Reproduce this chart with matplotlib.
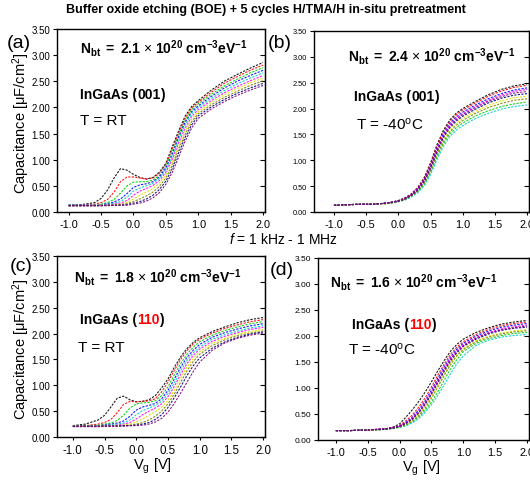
import matplotlib
matplotlib.use('Agg')
import matplotlib.pyplot as plt
import matplotlib.ticker as mticker

W, H = 530, 481

# gate voltage grid (V)
V = [-1.0, -0.8, -0.6, -0.5, -0.4, -0.3, -0.2, -0.1, 0.0, 0.1, 0.2, 0.3,
     0.4, 0.5, 0.6, 0.7, 0.8, 0.9, 1.0, 1.2, 1.4, 1.6, 1.8, 2.0]

# (a) InGaAs(001), RT, 1 kHz -> 1 MHz
A_CURVES = [
    [0.13, 0.14, 0.18, 0.26, 0.42, 0.65, 0.83, 0.80, 0.72, 0.66, 0.63, 0.66, 0.76, 0.93, 1.25, 1.56, 1.84, 2.02, 2.13, 2.33, 2.50, 2.63, 2.75, 2.86],
    [0.13, 0.13, 0.15, 0.18, 0.24, 0.38, 0.58, 0.67, 0.67, 0.65, 0.63, 0.65, 0.74, 0.91, 1.21, 1.52, 1.80, 1.99, 2.10, 2.29, 2.46, 2.59, 2.71, 2.81],
    [0.13, 0.13, 0.14, 0.15, 0.18, 0.24, 0.36, 0.50, 0.57, 0.58, 0.58, 0.61, 0.70, 0.88, 1.16, 1.48, 1.76, 1.96, 2.07, 2.25, 2.41, 2.54, 2.66, 2.76],
    [0.13, 0.13, 0.13, 0.14, 0.16, 0.19, 0.25, 0.35, 0.47, 0.52, 0.54, 0.58, 0.67, 0.84, 1.11, 1.44, 1.72, 1.92, 2.03, 2.21, 2.37, 2.50, 2.61, 2.71],
    [0.13, 0.13, 0.13, 0.14, 0.15, 0.17, 0.20, 0.28, 0.40, 0.46, 0.50, 0.55, 0.64, 0.80, 1.06, 1.39, 1.67, 1.88, 2.00, 2.17, 2.32, 2.45, 2.56, 2.66],
    [0.12, 0.13, 0.13, 0.13, 0.14, 0.15, 0.17, 0.22, 0.32, 0.40, 0.45, 0.51, 0.60, 0.76, 1.01, 1.33, 1.61, 1.83, 1.96, 2.13, 2.28, 2.40, 2.51, 2.61],
    [0.12, 0.12, 0.13, 0.13, 0.13, 0.14, 0.15, 0.18, 0.25, 0.32, 0.38, 0.45, 0.55, 0.71, 0.95, 1.27, 1.55, 1.78, 1.92, 2.09, 2.24, 2.36, 2.47, 2.56],
    [0.12, 0.12, 0.12, 0.13, 0.13, 0.13, 0.14, 0.16, 0.20, 0.25, 0.31, 0.38, 0.49, 0.65, 0.89, 1.21, 1.49, 1.73, 1.88, 2.05, 2.19, 2.31, 2.42, 2.51],
    [0.12, 0.12, 0.12, 0.12, 0.13, 0.13, 0.13, 0.14, 0.17, 0.20, 0.25, 0.32, 0.43, 0.59, 0.83, 1.14, 1.43, 1.67, 1.84, 2.01, 2.15, 2.27, 2.37, 2.46],
    [0.12, 0.12, 0.12, 0.12, 0.12, 0.13, 0.13, 0.13, 0.15, 0.17, 0.21, 0.27, 0.37, 0.53, 0.76, 1.06, 1.36, 1.61, 1.79, 1.97, 2.11, 2.23, 2.33, 2.42],
]

# (b) InGaAs(001), -40 C
B_CURVES = [
    [0.13, 0.14, 0.15, 0.15, 0.15, 0.16, 0.17, 0.19, 0.22, 0.27, 0.35, 0.47, 0.66, 0.95, 1.30, 1.58, 1.78, 1.91, 2.00, 2.14, 2.27, 2.37, 2.44, 2.48],
    [0.13, 0.14, 0.15, 0.15, 0.15, 0.16, 0.17, 0.19, 0.22, 0.27, 0.34, 0.46, 0.64, 0.92, 1.27, 1.55, 1.75, 1.88, 1.97, 2.11, 2.24, 2.34, 2.41, 2.45],
    [0.13, 0.14, 0.15, 0.15, 0.15, 0.16, 0.16, 0.18, 0.20, 0.24, 0.30, 0.39, 0.53, 0.76, 1.06, 1.32, 1.51, 1.63, 1.72, 1.86, 1.96, 2.04, 2.09, 2.13],
    [0.13, 0.14, 0.15, 0.15, 0.15, 0.16, 0.17, 0.19, 0.22, 0.26, 0.33, 0.45, 0.62, 0.89, 1.23, 1.51, 1.71, 1.84, 1.93, 2.07, 2.19, 2.29, 2.36, 2.40],
    [0.13, 0.14, 0.15, 0.15, 0.15, 0.16, 0.16, 0.18, 0.20, 0.23, 0.29, 0.37, 0.50, 0.72, 1.01, 1.27, 1.46, 1.58, 1.67, 1.81, 1.91, 1.99, 2.04, 2.07],
    [0.13, 0.14, 0.15, 0.15, 0.15, 0.16, 0.17, 0.19, 0.21, 0.26, 0.33, 0.44, 0.61, 0.87, 1.20, 1.48, 1.68, 1.81, 1.90, 2.04, 2.16, 2.26, 2.33, 2.37],
    [0.13, 0.14, 0.15, 0.15, 0.15, 0.16, 0.16, 0.18, 0.21, 0.25, 0.31, 0.41, 0.57, 0.81, 1.13, 1.40, 1.59, 1.72, 1.81, 1.95, 2.06, 2.15, 2.21, 2.24],
    [0.13, 0.14, 0.15, 0.15, 0.15, 0.16, 0.16, 0.18, 0.20, 0.24, 0.31, 0.40, 0.55, 0.79, 1.10, 1.36, 1.55, 1.68, 1.77, 1.91, 2.02, 2.10, 2.16, 2.19],
    [0.13, 0.14, 0.15, 0.15, 0.15, 0.16, 0.17, 0.18, 0.21, 0.25, 0.32, 0.42, 0.59, 0.84, 1.16, 1.44, 1.63, 1.76, 1.85, 1.99, 2.11, 2.20, 2.26, 2.29],
    [0.13, 0.14, 0.15, 0.15, 0.15, 0.16, 0.17, 0.19, 0.21, 0.26, 0.32, 0.43, 0.60, 0.85, 1.18, 1.46, 1.66, 1.79, 1.88, 2.02, 2.14, 2.23, 2.30, 2.33],
]

# (c) InGaAs(110), RT
C_CURVES = [
    [0.22, 0.25, 0.33, 0.42, 0.58, 0.75, 0.79, 0.72, 0.68, 0.69, 0.72, 0.80, 0.95, 1.12, 1.35, 1.55, 1.71, 1.83, 1.92, 2.04, 2.13, 2.21, 2.27, 2.31],
    [0.21, 0.22, 0.25, 0.28, 0.34, 0.47, 0.63, 0.69, 0.68, 0.69, 0.70, 0.74, 0.87, 1.06, 1.29, 1.50, 1.67, 1.80, 1.89, 2.01, 2.10, 2.17, 2.23, 2.27],
    [0.21, 0.21, 0.23, 0.25, 0.27, 0.32, 0.42, 0.56, 0.64, 0.66, 0.67, 0.70, 0.80, 0.97, 1.20, 1.42, 1.60, 1.74, 1.84, 1.97, 2.06, 2.13, 2.19, 2.23],
    [0.21, 0.21, 0.22, 0.23, 0.25, 0.27, 0.31, 0.40, 0.52, 0.58, 0.61, 0.65, 0.74, 0.90, 1.12, 1.35, 1.54, 1.68, 1.79, 1.93, 2.02, 2.09, 2.15, 2.19],
    [0.21, 0.21, 0.22, 0.22, 0.23, 0.25, 0.27, 0.33, 0.43, 0.51, 0.56, 0.61, 0.69, 0.84, 1.05, 1.28, 1.48, 1.63, 1.74, 1.89, 1.98, 2.05, 2.11, 2.15],
    [0.21, 0.21, 0.21, 0.22, 0.22, 0.23, 0.25, 0.28, 0.35, 0.43, 0.50, 0.56, 0.64, 0.78, 0.98, 1.21, 1.42, 1.58, 1.70, 1.85, 1.95, 2.02, 2.08, 2.12],
    [0.21, 0.21, 0.21, 0.21, 0.22, 0.22, 0.23, 0.25, 0.29, 0.35, 0.42, 0.49, 0.58, 0.71, 0.91, 1.14, 1.35, 1.52, 1.65, 1.81, 1.91, 1.99, 2.04, 2.08],
    [0.21, 0.21, 0.21, 0.21, 0.21, 0.22, 0.22, 0.23, 0.25, 0.28, 0.33, 0.40, 0.50, 0.64, 0.83, 1.06, 1.28, 1.46, 1.60, 1.77, 1.88, 1.96, 2.01, 2.05],
    [0.21, 0.21, 0.21, 0.21, 0.21, 0.21, 0.22, 0.22, 0.23, 0.25, 0.28, 0.34, 0.43, 0.57, 0.76, 0.97, 1.19, 1.38, 1.53, 1.72, 1.84, 1.93, 1.99, 2.03],
    [0.20, 0.20, 0.20, 0.21, 0.21, 0.21, 0.21, 0.22, 0.22, 0.23, 0.25, 0.29, 0.36, 0.48, 0.65, 0.85, 1.06, 1.27, 1.45, 1.68, 1.82, 1.91, 1.97, 2.01],
]

# (d) InGaAs(110), -40 C
D_CURVES = [
    [0.18, 0.18, 0.19, 0.19, 0.20, 0.21, 0.22, 0.25, 0.31, 0.44, 0.58, 0.74, 0.92, 1.12, 1.33, 1.53, 1.71, 1.84, 1.94, 2.07, 2.16, 2.23, 2.27, 2.30],
    [0.18, 0.18, 0.19, 0.19, 0.20, 0.21, 0.22, 0.24, 0.28, 0.37, 0.48, 0.63, 0.81, 1.02, 1.25, 1.46, 1.65, 1.79, 1.89, 2.03, 2.13, 2.20, 2.24, 2.27],
    [0.18, 0.18, 0.19, 0.19, 0.20, 0.20, 0.21, 0.23, 0.25, 0.29, 0.35, 0.44, 0.57, 0.73, 0.93, 1.15, 1.37, 1.55, 1.70, 1.86, 1.95, 2.01, 2.05, 2.07],
    [0.18, 0.18, 0.19, 0.19, 0.20, 0.21, 0.22, 0.24, 0.27, 0.34, 0.44, 0.58, 0.75, 0.96, 1.19, 1.41, 1.60, 1.75, 1.86, 2.00, 2.10, 2.17, 2.21, 2.24],
    [0.18, 0.18, 0.19, 0.19, 0.19, 0.20, 0.21, 0.22, 0.24, 0.27, 0.33, 0.41, 0.53, 0.68, 0.86, 1.06, 1.28, 1.47, 1.62, 1.82, 1.92, 1.98, 2.01, 2.03],
    [0.18, 0.18, 0.19, 0.19, 0.20, 0.21, 0.22, 0.24, 0.27, 0.33, 0.42, 0.55, 0.72, 0.92, 1.15, 1.37, 1.57, 1.72, 1.83, 1.97, 2.07, 2.14, 2.18, 2.21],
    [0.18, 0.18, 0.19, 0.19, 0.19, 0.20, 0.21, 0.23, 0.25, 0.30, 0.38, 0.49, 0.64, 0.83, 1.05, 1.27, 1.48, 1.64, 1.76, 1.91, 2.00, 2.06, 2.10, 2.12],
    [0.18, 0.18, 0.19, 0.19, 0.19, 0.20, 0.21, 0.22, 0.25, 0.29, 0.36, 0.47, 0.61, 0.80, 1.02, 1.24, 1.45, 1.62, 1.74, 1.89, 1.98, 2.04, 2.08, 2.10],
    [0.18, 0.18, 0.19, 0.19, 0.20, 0.20, 0.21, 0.23, 0.26, 0.32, 0.40, 0.52, 0.68, 0.88, 1.10, 1.32, 1.52, 1.68, 1.80, 1.94, 2.04, 2.11, 2.15, 2.17],
    [0.18, 0.18, 0.19, 0.19, 0.20, 0.21, 0.22, 0.24, 0.26, 0.32, 0.41, 0.53, 0.70, 0.90, 1.13, 1.35, 1.55, 1.70, 1.81, 1.96, 2.06, 2.12, 2.16, 2.19],
]

NBT = ['2.1', '2.4', '1.8', '1.6']
ORIENT = ['001', '001', '110', '110']
TEMP = ['T = RT', 'T = -40$^{\\mathrm{o}}$C', 'T = RT', 'T = -40$^{\\mathrm{o}}$C']
PANEL = ['(a)', '(b)', '(c)', '(d)']

# Origin-like colour order, lowest frequency first
COLORS = ['black', '#ff0000', '#00cc00', '#0000ff', '#00cccc', '#ff00ff',
          '#e0e000', '#808000', '#000080', '#800080']


def initialize():
    plt.rcParams['font.family'] = ['Liberation Sans', 'DejaVu Sans']
    plt.rcParams['mathtext.fontset'] = 'custom'
    plt.rcParams['mathtext.rm'] = 'Liberation Sans'
    plt.rcParams['mathtext.it'] = 'Liberation Sans:italic'
    plt.rcParams['mathtext.bf'] = 'Liberation Sans:bold'
    fig = plt.figure(figsize=(W / 100, H / 100), dpi=100)
    return fig


def fxy(x, y):
    # pixel -> figure fraction
    return x / W, 1 - y / H


def make_axes(fig, left, top, right, bottom, xmin, ysize, xsize):
    ax = fig.add_axes([left / W, 1 - bottom / H, (right - left) / W, (bottom - top) / H])
    ax.set_xlim(xmin, 2.03)
    ax.set_ylim(0, 3.5)
    ax.xaxis.set_major_locator(mticker.MultipleLocator(0.5))
    ax.yaxis.set_major_locator(mticker.MultipleLocator(0.5))
    ax.xaxis.set_major_formatter(mticker.FormatStrFormatter('%.1f'))
    ax.yaxis.set_major_formatter(mticker.FormatStrFormatter('%.2f'))
    ax.tick_params(axis='y', direction='out', length=3, width=0.8, labelsize=ysize, pad=2)
    ax.tick_params(axis='x', direction='out', length=2, width=0.8, labelsize=xsize, pad=3)
    for s in ax.spines.values():
        s.set_linewidth(1.0)
    sec = ax.secondary_yaxis('right')
    sec.yaxis.set_major_locator(mticker.MultipleLocator(0.5))
    sec.tick_params(direction='in', length=3.5, width=0.8, labelright=False)
    return ax


def plot_curves(ax, curves):
    for i in range(len(curves)):
        ax.plot(V, curves[i], color=COLORS[i], lw=0.8, ls=(0, (2, 1.2)), alpha=0.9)


def orient_text(fig, x, y, orient, red):
    # "InGaAs (110)" with the orientation in red for (110)
    t1 = fig.text(*fxy(x, y), 'InGaAs (', fontsize=10, fontweight='bold', va='center')
    a = plt.annotate(orient, xy=(1, 0), xycoords=t1, va='bottom', ha='left',
                     fontsize=10, fontweight='bold', color='red' if red else 'black',
                     annotation_clip=False)
    plt.annotate(')', xy=(1, 0), xycoords=a, va='bottom', ha='left',
                 fontsize=10, fontweight='bold', annotation_clip=False)


def main():
    fig = initialize()

    ax_a = make_axes(fig, 57, 30, 265, 213, -1.18, 7, 7.8)
    ax_b = make_axes(fig, 314, 32, 529, 213, -1.31, 5.3, 7.8)
    ax_c = make_axes(fig, 57, 257, 265, 438, -1.25, 7, 8.3)
    ax_d = make_axes(fig, 318, 259, 529, 441, -1.28, 6, 7.8)
    axes = [ax_a, ax_b, ax_c, ax_d]
    data = [A_CURVES, B_CURVES, C_CURVES, D_CURVES]
    for ax, curves in zip(axes, data):
        plot_curves(ax, curves)

    for ax in [ax_a, ax_c]:
        ax.set_ylabel('Capacitance [μF/cm$^2$]', fontsize=10.5)
        ax.yaxis.set_label_coords(-0.12, 0.49)
    ax_c.set_xlabel('V$_\\mathrm{g}$ [V]', fontsize=10.5)
    ax_c.xaxis.set_label_coords(0.46, -0.105)
    ax_d.set_xlabel('V$_\\mathrm{g}$ [V]', fontsize=10.5)
    ax_d.xaxis.set_label_coords(0.49, -0.095)

    # text positions (pixels)
    lab_pos = [(19, 44), (280, 43), (21, 267), (282, 271)]
    nbt_pos = [(80, 48), (348, 57), (74, 278), (330, 283)]
    ing_pos = [(80, 95), (354, 97), (80, 320), (352, 325)]
    tmp_pos = [(80, 121), (356, 125), (78, 348), (348, 350)]
    for i in range(4):
        fig.text(*fxy(*lab_pos[i]), PANEL[i], fontsize=14, ha='center', va='center')
        fig.text(*fxy(*nbt_pos[i]),
                 r'$\mathbf{N_{bt}}$ $\mathbf{=}$ $\mathbf{' + NBT[i] + r'}$ $\times$ '
                 r'$\mathbf{10^{20}}$ $\mathbf{cm^{-3}eV^{-1}}$',
                 fontsize=10, va='center')
        orient_text(fig, ing_pos[i][0], ing_pos[i][1], ORIENT[i], ORIENT[i] == '110')
        fig.text(*fxy(*tmp_pos[i]), TEMP[i], fontsize=11, va='center')

    fig.text(*fxy(266, 10), 'Buffer oxide etching (BOE) + 5 cycles H/TMA/H in-situ pretreatment',
             fontsize=9, fontweight='bold', ha='center', va='center')
    fig.text(*fxy(283, 240), '$f$ = 1 kHz - 1 MHz', fontsize=10, ha='center', va='center')

    fig.savefig('out.png', dpi=100)
    return 0


if __name__ == '__main__':
    main()
